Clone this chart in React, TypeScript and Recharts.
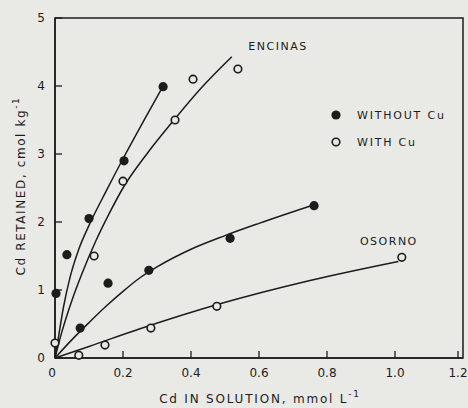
import React from "react";
import { ComposedChart, Line, Scatter, XAxis, YAxis, ReferenceDot, ReferenceArea } from "recharts";

const INK = "#1c1c1c";
const BG = "#e9e9e5";
const FONT = "'DejaVu Sans', sans-serif";

const xTicks = [0, 0.2, 0.4, 0.6, 0.8, 1.0, 1.2];
const xTickLabels = ["0", "0.2", "0.4", "0.6", "0.8", "1.0", "1.2"];
const yTicks = [0, 1, 2, 3, 4, 5];

// measured points
const encinasWithoutX = [0.003, 0.035, 0.1, 0.203, 0.318];
const encinasWithoutY = [0.95, 1.52, 2.05, 2.9, 3.99];
const encinasWithX = [0.0, 0.115, 0.2, 0.353, 0.406, 0.538];
const encinasWithY = [0.22, 1.5, 2.6, 3.5, 4.1, 4.25];
const osornoWithoutX = [0.074, 0.156, 0.276, 0.515, 0.762];
const osornoWithoutY = [0.44, 1.1, 1.29, 1.76, 2.24];
const osornoWithX = [0.07, 0.147, 0.282, 0.476, 1.02];
const osornoWithY = [0.04, 0.19, 0.44, 0.76, 1.48];

// fitted curves
const encinasWithoutFitX = [0, 0.01, 0.025, 0.045, 0.07, 0.1, 0.15, 0.2, 0.26, 0.318];
const encinasWithoutFitY = [0, 0.3, 0.75, 1.2, 1.6, 1.95, 2.45, 2.93, 3.48, 4.0];
const encinasWithFitX = [0, 0.02, 0.05, 0.08, 0.12, 0.16, 0.2, 0.27, 0.35, 0.43, 0.52];
const encinasWithFitY = [0, 0.38, 0.85, 1.25, 1.72, 2.13, 2.5, 3.0, 3.5, 3.97, 4.43];
const osornoWithoutFitX = [0, 0.05, 0.1, 0.15, 0.2, 0.25, 0.3, 0.4, 0.5, 0.6, 0.76];
const osornoWithoutFitY = [0, 0.27, 0.52, 0.76, 0.98, 1.18, 1.34, 1.6, 1.8, 1.98, 2.25];
const osornoWithFitX = [0, 0.1, 0.25, 0.48, 0.75, 1.01];
const osornoWithFitY = [0, 0.17, 0.43, 0.79, 1.14, 1.42];

const zip = (xs: number[], ys: number[]) => xs.map((x, i) => ({ x, y: ys[i] }));

const FilledDot = (p: any) => <circle cx={p.cx} cy={p.cy} r={4.6} fill={INK} />;
const OpenDot = (p: any) => (
  <circle cx={p.cx} cy={p.cy} r={3.8} fill={BG} stroke={INK} strokeWidth={1.6} />
);

const XTick = (p: any) => {
  const i = xTicks.indexOf(p.payload.value);
  return (
    <g>
      <line x1={p.x} x2={p.x} y1={p.y} y2={p.y - 7} stroke={INK} strokeWidth={1.3} />
      <text x={p.x - (i === 0 ? 3 : 0)} y={p.y + 19} textAnchor="middle" fontSize={12} fontFamily={FONT} fill={INK}>
        {xTickLabels[i] ?? p.payload.value}
      </text>
    </g>
  );
};

const YTick = (p: any) => (
  <g>
    <line x1={p.x} x2={p.x + 7} y1={p.y} y2={p.y} stroke={INK} strokeWidth={1.3} />
    <text x={p.x - 10} y={p.y + 4} textAnchor="end" fontSize={12} fontFamily={FONT} fill={INK}>
      {p.payload.value}
    </text>
  </g>
);

const legendItems = [
  { label: "WITHOUT Cu", filled: true },
  { label: "WITH Cu", filled: false },
];

export default function App() {
  return (
    <div style={{ position: "fixed", left: 0, top: 0, width: 468, height: 408, background: BG }}>
      <ComposedChart width={468} height={408} margin={{ top: 18, right: 5, bottom: 0, left: 0 }}>
        <XAxis
          xAxisId="b"
          type="number"
          dataKey="x"
          domain={[0, 1.2]}
          ticks={xTicks}
          height={50}
          tickSize={0}
          tickMargin={0}
          tickLine={false}
          axisLine={{ stroke: INK, strokeWidth: 1.5 }}
          tick={<XTick />}
          label={{
            content: () => (
              <text x={260} y={403} textAnchor="middle" fontSize={12} fontFamily={FONT} fill={INK} letterSpacing={1.8}>
                Cd IN SOLUTION, mmol L<tspan dy={-6} fontSize={9}>-1</tspan>
              </text>
            ),
          }}
        />
        <YAxis
          yAxisId="l"
          type="number"
          dataKey="y"
          domain={[0, 5]}
          ticks={yTicks}
          width={55}
          tickSize={0}
          tickMargin={0}
          tickLine={false}
          axisLine={{ stroke: INK, strokeWidth: 1.5 }}
          tick={<YTick />}
          label={{
            content: () => (
              <text x={25} y={186} transform="rotate(-90 25 186)" textAnchor="middle" fontSize={12} fontFamily={FONT} fill={INK} letterSpacing={1.6}>
                Cd RETAINED, cmol kg<tspan dy={-6} fontSize={9}>-1</tspan>
              </text>
            ),
          }}
        />

        <ReferenceArea xAxisId="b" yAxisId="l" x1={0} x2={1.2} y1={0} y2={5} fill="none" stroke={INK} strokeWidth={1.5} />

        <Line xAxisId="b" yAxisId="l" data={zip(encinasWithoutFitX, encinasWithoutFitY)} dataKey="y" type="monotone" stroke={INK} strokeWidth={1.5} dot={false} isAnimationActive={false} />
        <Line xAxisId="b" yAxisId="l" data={zip(encinasWithFitX, encinasWithFitY)} dataKey="y" type="monotone" stroke={INK} strokeWidth={1.5} dot={false} isAnimationActive={false} />
        <Line xAxisId="b" yAxisId="l" data={zip(osornoWithoutFitX, osornoWithoutFitY)} dataKey="y" type="monotone" stroke={INK} strokeWidth={1.5} dot={false} isAnimationActive={false} />
        <Line xAxisId="b" yAxisId="l" data={zip(osornoWithFitX, osornoWithFitY)} dataKey="y" type="monotone" stroke={INK} strokeWidth={1.5} dot={false} isAnimationActive={false} />

        <Scatter xAxisId="b" yAxisId="l" data={zip(encinasWithoutX, encinasWithoutY)} dataKey="y" shape={<FilledDot />} isAnimationActive={false} />
        <Scatter xAxisId="b" yAxisId="l" data={zip(osornoWithoutX, osornoWithoutY)} dataKey="y" shape={<FilledDot />} isAnimationActive={false} />
        <Scatter xAxisId="b" yAxisId="l" data={zip(encinasWithX, encinasWithY)} dataKey="y" shape={<OpenDot />} isAnimationActive={false} />
        <Scatter xAxisId="b" yAxisId="l" data={zip(osornoWithX, osornoWithY)} dataKey="y" shape={<OpenDot />} isAnimationActive={false} />

        <ReferenceDot xAxisId="b" yAxisId="l" x={0.656} y={4.59} r={0} label={{ value: "ENCINAS", position: "center", fontSize: 11, fontFamily: FONT, fill: INK, letterSpacing: 1.5 }} />
        <ReferenceDot xAxisId="b" yAxisId="l" x={0.982} y={1.72} r={0} label={{ value: "OSORNO", position: "center", fontSize: 11, fontFamily: FONT, fill: INK, letterSpacing: 1.5 }} />
      </ComposedChart>
      <svg width={135} height={50} style={{ position: "absolute", left: 329, top: 106 }}>
        {legendItems.map((it, i) => (
          <g key={it.label}>
            {it.filled ? (
              <circle cx={7} cy={9 + i * 27} r={4.6} fill={INK} />
            ) : (
              <circle cx={7} cy={9 + i * 27} r={3.8} fill={BG} stroke={INK} strokeWidth={1.6} />
            )}
            <text x={28} y={13 + i * 27} fontSize={11} fontFamily={FONT} fill={INK} letterSpacing={1.8}>
              {it.label}
            </text>
          </g>
        ))}
      </svg>
    </div>
  );
}
